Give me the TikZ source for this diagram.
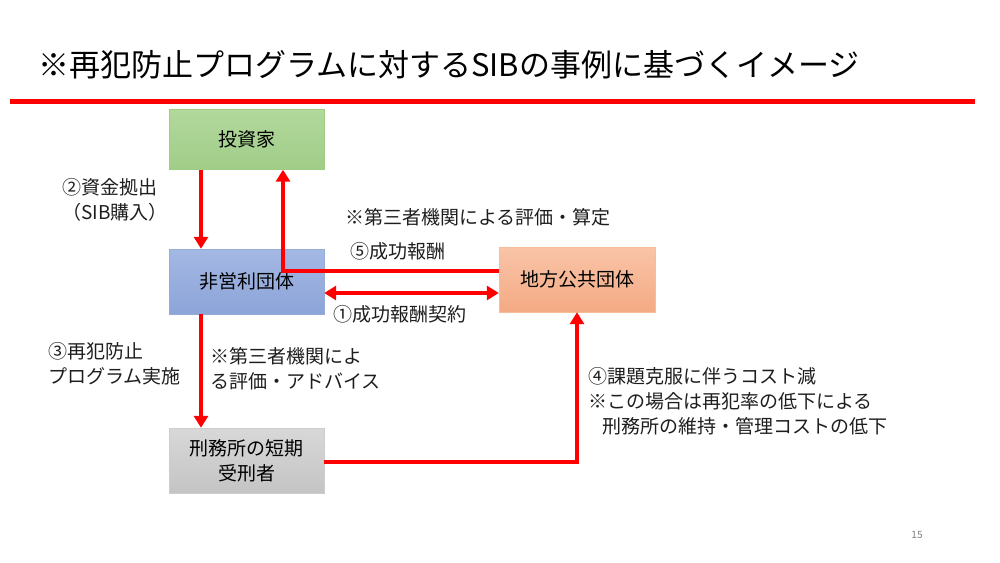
\documentclass[tikz,border=0pt]{standalone}
\usepackage{fontspec}
\setmainfont{Noto Sans CJK JP}
\usepackage{xcolor}
\usetikzlibrary{arrows.meta, positioning}

\definecolor{slred}{RGB}{255,0,0}
\definecolor{txtgray}{RGB}{30,30,30}

\begin{document}
\begin{tikzpicture}[x=1pt, y=-1pt]
\tikzstyle{invbox} = [rectangle, minimum width=155pt, minimum height=60pt, text centered, draw={rgb,255:red,160;green,205;blue,130}, top color={rgb,255:red,178;green,216;blue,156}, bottom color={rgb,255:red,160;green,205;blue,136}]
\tikzstyle{npobox} = [rectangle, minimum width=155pt, minimum height=65pt, text centered, draw={rgb,255:red,150;green,172;blue,215}, top color={rgb,255:red,164;green,184;blue,228}, bottom color={rgb,255:red,140;green,164;blue,216}]
\tikzstyle{govbox} = [rectangle, minimum width=156pt, minimum height=65pt, text centered, draw={rgb,255:red,245;green,190;blue,150}, top color={rgb,255:red,249;green,196;blue,168}, bottom color={rgb,255:red,244;green,170;blue,132}]
\tikzstyle{pribox} = [rectangle, minimum width=155pt, minimum height=65pt, text centered, align=center, draw={rgb,255:red,205;green,205;blue,205}, top color={rgb,255:red,216;green,216;blue,216}, bottom color={rgb,255:red,196;green,196;blue,196}]
\tikzstyle{lbl} = [anchor=west, inner sep=0pt, align=left, text=txtgray, font=\fontsize{19}{25}\selectfont]
\tikzstyle{arrow} = [draw=slred, line width=4pt, -{Triangle[length=12pt,width=14pt]}]
\tikzstyle{dblarrow} = [draw=slred, line width=4pt, {Triangle[length=12pt,width=14pt]}-{Triangle[length=12pt,width=14pt]}]

\useasboundingbox [fill=white] (0,0) rectangle (1000,562);

\node (title) [anchor=west, inner sep=0pt, font=\fontsize{31}{36}\selectfont] at (38,65) {※再犯防止プログラムに対するSIBの事例に基づくイメージ};
\draw [slred, line width=5pt] (10,101) -- (975,101);

\node (inv) [invbox, font=\fontsize{19}{25}\selectfont] at (246.5,139.5) {投資家};
\node (npo) [npobox, font=\fontsize{19}{25}\selectfont] at (246.5,281.5) {非営利団体};
\node (gov) [govbox, font=\fontsize{19}{25}\selectfont] at (577,279.5) {地方公共団体};
\node (pri) [pribox, font=\fontsize{19}{25}\selectfont] at (246.5,460.5) {刑務所の短期\\受刑者};

\coordinate (fund) at ([xshift=-45.5pt]inv.south);
\coordinate (pay) at ([xshift=36.5pt]inv.south);
\coordinate (deal) at ([yshift=-11.5pt]npo.east);
\coordinate (prog) at ([xshift=-45.5pt]npo.south);

\draw [arrow] (fund) -- (fund |- npo.north);
\draw [arrow] ([yshift=8.5pt]gov.west) -| (pay);
\draw [dblarrow] (deal) -- (deal -| gov.west);
\draw [arrow] (prog) -- (prog |- pri.north);
\draw [arrow] ([yshift=-1.5pt]pri.east) -| (gov.south);

\node (l2) [lbl] at (62,200) {②資金拠出\\（SIB購入）};
\node (lnote) [lbl] at (345,217) {※第三者機関による評価・算定};
\node (l5) [lbl] at (350,251) {⑤成功報酬};
\node (l1) [lbl] at (333,314) {①成功報酬契約};
\node (l3) [lbl] at (48,364) {③再犯防止\\プログラム実施};
\node (ladv) [lbl] at (210,369) {※第三者機関によ\\る評価・アドバイス};
\node (l4) [lbl] at (588,401) {④課題克服に伴うコスト減\\※この場合は再犯率の低下による\\\hspace{14pt}刑務所の維持・管理コストの低下};

\node (pg) [inner sep=0pt, text=gray, font=\fontsize{10}{12}\selectfont] at (917,535) {15};
\end{tikzpicture}
\end{document}
